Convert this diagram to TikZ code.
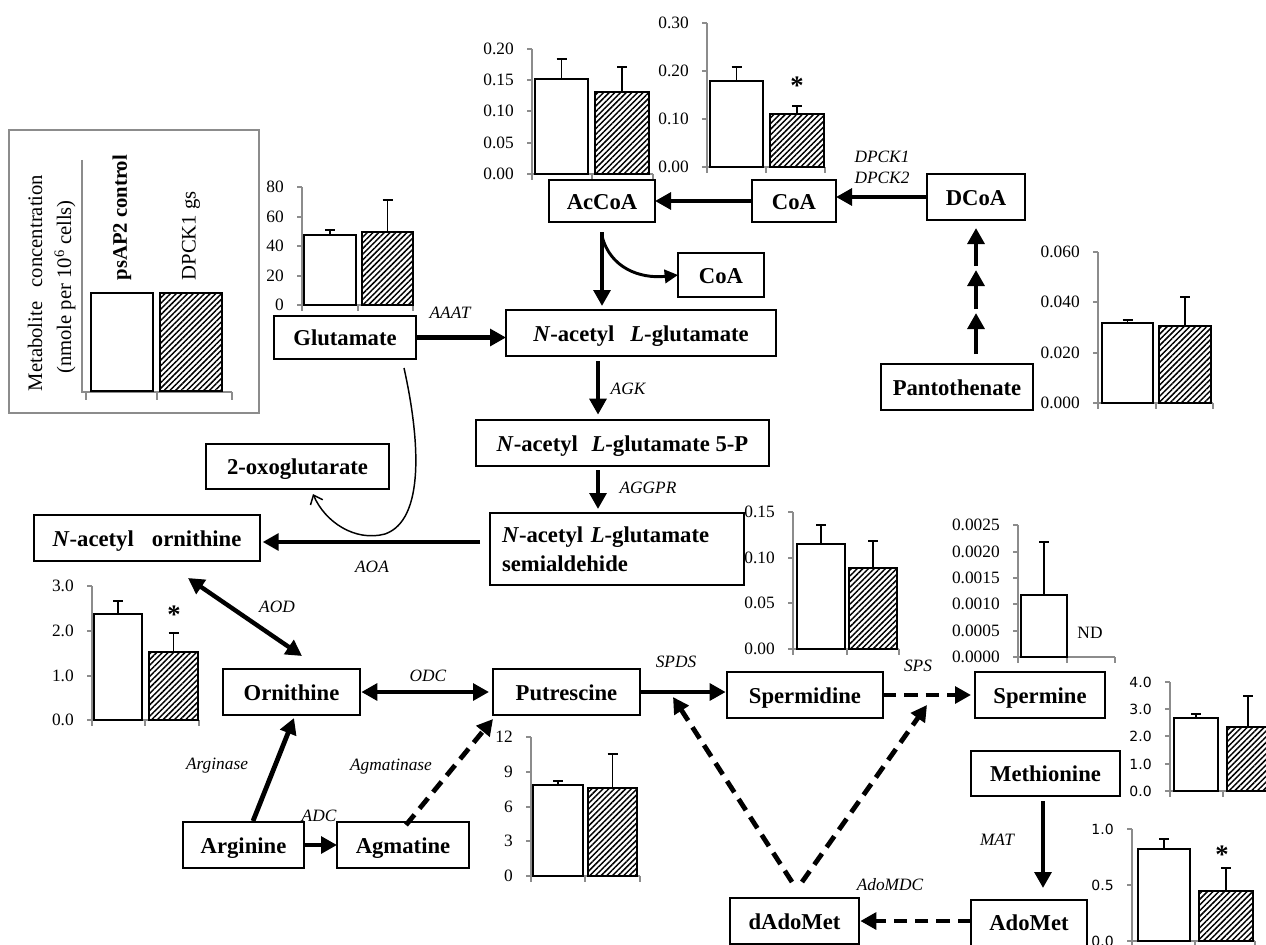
\documentclass[tikz,border=0pt]{standalone}
\usepackage{fontspec}
\setmainfont{Liberation Serif}
\newfontfamily\chsans{DejaVu Sans}
\usetikzlibrary{arrows.meta,patterns.meta,fit}
\tikzset{
  box/.style={draw, line width=1.1pt, inner sep=0pt, outer sep=0pt, font=\fontsize{17}{22}\selectfont\bfseries},
  sbox/.style={box, text height=14pt, text depth=2pt},
  arr/.style={line width=3.6pt, -{Triangle[length=12pt,width=12.5pt]}},
  darr/.style={arr, dash pattern=on 10pt off 6pt},
  dbl/.style={line width=3.3pt, {Triangle[length=12pt,width=12.5pt]}-{Triangle[length=12pt,width=12.5pt]}},
  enz/.style={font=\fontsize{13}{15}\selectfont\itshape, inner sep=0pt},
  lab/.style={font=\fontsize{13}{15}\selectfont, inner sep=0pt, anchor=east},
  slab/.style={font=\chsans\fontsize{10.5}{12}\selectfont, inner sep=0pt, anchor=east},
  axisl/.style={draw=black!45, line width=0.9pt},
  barw/.style={draw=black, line width=1.1pt, fill=white},
  barh/.style={draw=black, line width=1.1pt, pattern={Lines[angle=45,distance=3pt,line width=1.1pt]}},
  err/.style={line width=0.9pt},
  star/.style={font=\fontsize{20}{20}\selectfont\bfseries, inner sep=0pt},
}
\def\chgap{18}
\newcommand\chaxis[4]{\draw[axisl] (#1,#2) -- (#1,#3) -- (#4,#3);}
\newcommand\chtick[3]{\draw[axisl] ({#1-5},#2) -- (#1,#2); \node[lab] at ({#1-\chgap},#2) {#3};}
\newcommand\chstick[3]{\draw[axisl] ({#1-5},#2) -- (#1,#2); \node[slab] at ({#1-\chgap},#2) {#3};}
\newcommand\chxtick[2]{\draw[axisl] (#1,#2) -- (#1,{#2+6});}
\newcommand\whitebar[5]{\draw[barw] (#1,#5) rectangle (#2,#3);
  \draw[err] ({(#1+#2)/2},#3) -- ({(#1+#2)/2},#4) ({(#1+#2)/2-5},#4) -- ({(#1+#2)/2+5},#4);}
\newcommand\hatchbar[5]{\draw[barh] (#1,#5) rectangle (#2,#3);
  \draw[err] ({(#1+#2)/2},#3) -- ({(#1+#2)/2},#4) ({(#1+#2)/2-5},#4) -- ({(#1+#2)/2+5},#4);}
% box node from pixel corners: [opts]{name}{x1}{y1}{x2}{y2}{text}
\newcommand\mnode[7][]{\node[sbox, minimum width={(#5-#3)*0.75pt}, minimum height={(#6-#4)*0.75pt}, #1] (#2) at ({(#3+#5)/2},{(#4+#6)/2}) {#7};}
\begin{document}
\begin{tikzpicture}[x=0.75pt,y=-0.75pt]
\useasboundingbox (0,0) rectangle (1266,945);
\fill[white] (0,0) rectangle (1266,945);
\clip (0,0) rectangle (1266,945);

% ---------- legend ----------
\node[draw=black!45, line width=0.9pt, inner sep=0pt, fit={(9,130)(259,413)}] (legend) {};
\draw[axisl] (82,160) -- (82,392) -- (232,392);
\draw[axisl] (86,392) -- (86,400) (157,392) -- (157,400) (232,392) -- (232,400);
\draw[barw] (91,391) rectangle (153,293);
\draw[barh] (160,391) rectangle (222,293);
\node[rotate=90, font=\fontsize{15.5}{17}\selectfont] (lt1) at (35,283) {Metabolite\hspace{0.7em}concentration};
\node[rotate=90, font=\fontsize{15.5}{17}\selectfont] (lt2) at (65,287) {(nmole per 10\textsuperscript{6} cells)};
\node[rotate=90, anchor=west, font=\fontsize{15.5}{17}\selectfont\bfseries] (lt3) at (122,285) {psAP2 control};
\node[rotate=90, anchor=west, font=\fontsize{15.5}{17}\selectfont] (lt4) at (191,285) {DPCK1 gs};

% ---------- charts ----------
% AcCoA
\chaxis{532}{49}{174}{653}
\chtick{532}{174}{0.00}\chtick{532}{143}{0.05}\chtick{532}{111}{0.10}\chtick{532}{80}{0.15}\chtick{532}{49}{0.20}
\chxtick{592}{174}\chxtick{653}{174}\chxtick{532}{174}
\whitebar{535}{588}{79}{59}{174}
\hatchbar{595}{649}{92}{67}{174}
% CoA
\chaxis{707}{23}{167}{825}
\chtick{707}{167}{0.00}\chtick{707}{119}{0.10}\chtick{707}{71}{0.20}\chtick{707}{23}{0.30}
\chxtick{707}{167}\chxtick{766}{167}\chxtick{825}{167}
\whitebar{710}{763}{81}{67}{167}
\hatchbar{770}{824}{114}{106}{167}
\node[star] (s1) at (797,86) {*};
% Glutamate
\chaxis{302}{187}{305}{413}
\chtick{302}{305}{0}\chtick{302}{276}{20}\chtick{302}{246}{40}\chtick{302}{217}{60}\chtick{302}{187}{80}
\chxtick{302}{305}\chxtick{358}{305}\chxtick{413}{305}
\whitebar{304}{356}{235}{230}{305}
\hatchbar{362}{413}{232}{200}{305}
% Pantothenate
\chaxis{1098}{252}{403}{1213}
\chtick{1098}{403}{0.000}\chtick{1098}{353}{0.020}\chtick{1098}{302}{0.040}\chtick{1098}{252}{0.060}
\chxtick{1098}{403}\chxtick{1156}{403}\chxtick{1213}{403}
\whitebar{1102}{1153}{323}{320}{403}
\hatchbar{1159}{1211}{326}{297}{403}
% semialdehyde
\chaxis{793}{512}{649}{899}
\chtick{793}{649}{0.00}\chtick{793}{603}{0.05}\chtick{793}{558}{0.10}\chtick{793}{512}{0.15}
\chxtick{793}{649}\chxtick{847}{649}\chxtick{899}{649}
\whitebar{797}{845}{544}{525}{649}
\hatchbar{849}{897}{568}{541}{649}
% spermine
\chaxis{1018}{525}{657}{1115}
\chtick{1018}{657}{0.0000}\chtick{1018}{631}{0.0005}\chtick{1018}{604}{0.0010}\chtick{1018}{578}{0.0015}\chtick{1018}{552}{0.0020}\chtick{1018}{525}{0.0025}
\chxtick{1018}{657}\chxtick{1067}{657}\chxtick{1115}{657}
\whitebar{1021}{1067}{595}{542}{657}
\node[font=\fontsize{13}{15}\selectfont, inner sep=0pt] (nd) at (1090,633) {ND};
% ornithine
\chaxis{92}{586}{720}{199}
\chtick{92}{720}{0.0}\chtick{92}{676}{1.0}\chtick{92}{631}{2.0}\chtick{92}{586}{3.0}
\chxtick{92}{720}\chxtick{145}{720}\chxtick{199}{720}
\whitebar{94}{142}{614}{601}{720}
\hatchbar{149}{198}{652}{633}{720}
\node[star] (s2) at (174,615) {*};
% putrescine
\chaxis{531}{737}{876}{640}
\chtick{531}{876}{0}\chtick{531}{841}{3}\chtick{531}{807}{6}\chtick{531}{772}{9}\chtick{531}{737}{12}
\chxtick{531}{876}\chxtick{585}{876}\chxtick{640}{876}
\whitebar{533}{583}{785}{781}{876}
\hatchbar{588}{637}{788}{754}{876}
% right chart (sans)
\chaxis{1170}{682}{791}{1275}
\chstick{1170}{791}{0.0}\chstick{1170}{764}{1.0}\chstick{1170}{736}{2.0}\chstick{1170}{709}{3.0}\chstick{1170}{682}{4.0}
\chxtick{1170}{791}\chxtick{1223}{791}
\whitebar{1174}{1218}{718}{714}{791}
\draw[barh] (1227,791) rectangle (1280,727);
\draw[err] (1248,727) -- (1248,696) (1243,696) -- (1253,696);
% AdoMet chart (sans)
\chaxis{1132}{829}{941}{1255}
\chstick{1132}{941}{0.0}\chstick{1132}{885}{0.5}\chstick{1132}{829}{1.0}
\chxtick{1132}{941}\chxtick{1195}{941}\chxtick{1255}{941}
\whitebar{1138}{1190}{849}{839}{941}
\hatchbar{1199}{1253}{891}{868}{941}
\node[star] (s3) at (1222,855) {*};

% ---------- metabolite boxes ----------
\mnode{accoa}{549}{180}{655}{222}{AcCoA}
\mnode{coat}{752}{180}{836}{222}{CoA}
\mnode{dcoa}{927}{174}{1025}{220}{DCoA}
\mnode{coar}{678}{253}{764}{297}{CoA}
\mnode{glu}{274}{316}{416}{359}{Glutamate}
\mnode{nag}{506}{310}{776}{356}{\textit{N}-acetyl\hspace{0.7em}\textit{L}-glutamate}
\mnode{pan}{881}{364}{1033}{410}{Pantothenate}
\mnode{nagp}{476}{420}{769}{466}{\textit{N}-acetyl\hspace{0.6em}\textit{L}-glutamate 5-P}
\mnode{oxo}{206}{444}{389}{489}{2-oxoglutarate}
\mnode{nao}{34}{515}{260}{561}{\textit{N}-acetyl\hspace{0.8em}ornithine}
\node[box, align=left, text width=172.5pt, inner xsep=9pt, minimum height=54pt] (nags) at (617,549) {\textit{N}-acetyl \textit{L}-glutamate\\semialdehide};
\mnode{orn}{223}{669}{360}{715}{Ornithine}
\mnode{put}{493}{669}{640}{715}{Putrescine}
\mnode{spd}{727}{672}{883}{718}{Spermidine}
\mnode{spm}{975}{672}{1105}{718}{Spermine}
\mnode{met}{971}{751}{1120}{796}{Methionine}
\mnode{arg}{183}{822}{304}{868}{Arginine}
\mnode{agm}{337}{822}{469}{868}{Agmatine}
\mnode{dado}{730}{898}{859}{944}{dAdoMet}
\mnode[draw=none]{ado}{971}{900}{1087}{944}{AdoMet}
\draw[line width=1.1pt] (ado.south west) ++(0,10) |- (ado.north east) -- ++(0,60);

% ---------- connectors ----------
\draw[arr] (coat.west) -- (accoa.east);
\draw[arr] (dcoa.west) -- (dcoa.west -| coat.east);
\coordinate (p0) at (976,354);
\coordinate (p1) at (976,313);
\coordinate (p2) at (976,270);
\coordinate (p3) at (976,228);
\draw[arr] (p0) -- (p1);
\draw[arr, shorten <=3pt] (p1) -- (p2);
\draw[arr, shorten <=3pt] (p2) -- (p3);
\draw[arr, shorten <=7.5pt, shorten >=3pt] (accoa.south) -- (accoa.south |- nag.north);
\coordinate (cstart) at (602,236);
\draw[line width=2.2pt, -{Triangle[length=10pt,width=10pt]}] (cstart) .. controls (610,268) and (640,279) .. (coar.west);
\draw[arr] (glu.east) -- (glu.east -| nag.west);
\draw[arr, shorten <=4pt, shorten >=4pt] (nag.south -| 598,0) -- (nagp.north -| 598,0);
\draw[arr, shorten <=3pt, shorten >=3pt] (nagp.south -| 598,0) -- (nags.north -| 598,0);
\draw[arr, shorten <=7.5pt, shorten >=2pt] (nags.west |- 0,542) -- (nao.east |- 0,542);
\coordinate (gstart) at (404,368);
\coordinate (otip) at (313,494);
\draw[line width=1.1pt, -{Straight Barb[length=6pt,width=10pt]}] (gstart) .. controls (420,440) and (425,520) .. (385,534) .. controls (355,542) and (325,522) .. (otip);
\coordinate (aod1) at (188,578);
\coordinate (aod2) at (302,656);
\draw[dbl] (aod1) -- (aod2);
\draw[dbl, shorten <=1pt, shorten >=3pt] (orn.east) -- (put.west);
\coordinate (argst) at (253,821);
\coordinate (ornt) at (294,718);
\draw[arr] (argst) -- (ornt);
\draw[arr] (arg.east) -- (agm.west);
\coordinate (agst) at (406,825);
\coordinate (putt) at (493,719);
\draw[darr] (agst) -- (putt);
\draw[arr, shorten >=1pt] (put.east) -- (put.east -| spd.west);
\draw[darr, shorten >=3pt] (spd.east) -- (spm.west);
\coordinate (d1) at (792,882);
\coordinate (d1t) at (673,697);
\coordinate (d2) at (802,882);
\coordinate (d2t) at (927,705);
\draw[darr] (d1) -- (d1t);
\draw[darr] (d2) -- (d2t);
\draw[arr, shorten <=4pt, shorten >=9pt] (met.south -| 1043,0) -- (ado.north -| 1043,0);
\draw[darr, shorten >=1pt] (ado.west |- 0,921) -- (dado.east |- 0,921);

% ---------- enzyme labels ----------
\node[enz] (e1) at (882,157) {DPCK1};
\node[enz] (e2) at (882,178) {DPCK2};
\node[enz] (e3) at (450,313) {AAAT};
\node[enz] (e4) at (628,389) {AGK};
\node[enz] (e5) at (648,488) {AGGPR};
\node[enz] (e6) at (372,567) {AOA};
\node[enz] (e7) at (277,607) {AOD};
\node[enz] (e8) at (428,676) {ODC};
\node[enz] (e9) at (676,662) {SPDS};
\node[enz] (e10) at (918,666) {SPS};
\node[enz] (e11) at (217,766) {Arginase};
\node[enz] (e12) at (319,816) {ADC};
\node[enz] (e13) at (391,767) {Agmatinase};
\node[enz] (e14) at (997,840) {MAT};
\node[enz] (e15) at (890,885) {AdoMDC};
\end{tikzpicture}
\end{document}
